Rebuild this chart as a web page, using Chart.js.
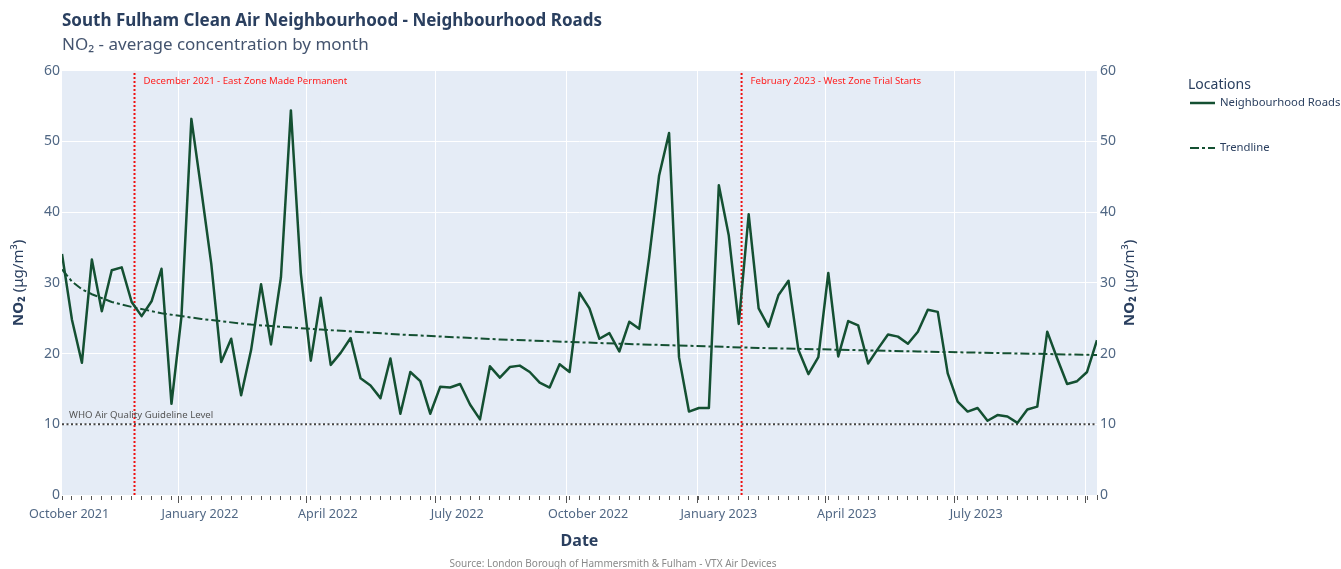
<!DOCTYPE html>
<html>
<head>
<meta charset="utf-8">
<script src="https://cdn.jsdelivr.net/npm/chart.js@4.4.1/dist/chart.umd.min.js"></script>
<style>
  html, body { margin: 0; padding: 0; background: #fff; }
</style>
</head>
<body>
<canvas id="grafico" width="1341" height="569"></canvas>
<script>
const chart = document.getElementById('grafico');
const FONT = '"Noto Sans", sans-serif';

// DATI
const DAY = 86400000;
const WEEK = 7 * DAY;
const primaSettimana = Date.UTC(2021, 9, 11);   // prima lettura settimanale

const roads = [
  34.1, 24.8, 18.7, 33.3, 26.0, 31.8, 32.2, 27.3, 25.3, 27.4,
  32.0, 12.9, 25.2, 53.2, 43.1, 32.7, 18.8, 22.1, 14.1, 20.5,
  29.8, 21.3, 30.8, 54.4, 31.3, 19.0, 27.9, 18.4, 20.1, 22.2,
  16.5, 15.5, 13.7, 19.3, 11.5, 17.4, 16.1, 11.5, 15.3, 15.2,
  15.7, 12.8, 10.7, 18.2, 16.6, 18.1, 18.3, 17.4, 15.9, 15.2,
  18.5, 17.4, 28.6, 26.4, 22.1, 22.9, 20.3, 24.5, 23.5, 33.6,
  45.2, 51.2, 19.5, 11.8, 12.3, 12.3, 43.8, 36.7, 24.2, 39.7,
  26.4, 23.8, 28.3, 30.3, 20.5, 17.1, 19.5, 31.4, 19.6, 24.6,
  24.0, 18.6, 20.7, 22.7, 22.4, 21.4, 23.1, 26.2, 25.9, 17.2,
  13.2, 11.8, 12.3, 10.5, 11.3, 11.1, 10.2, 12.1, 12.5, 23.1,
  19.3, 15.7, 16.1, 17.4, 21.9
];

// trendline (indice settimana -> valore)
const trendWeeks = [0, 1, 2, 3, 5, 7, 10, 14, 19, 26, 34, 44, 56, 70, 86, 104];
const trendValues = [31.9, 30.2, 29.1, 28.4, 27.3, 26.6, 25.7, 24.9, 24.1, 23.4, 22.7, 22.0, 21.4, 20.8, 20.3, 19.8];

const quarterStarts = ['2022-01-01', '2022-04-01', '2022-07-01', '2022-10-01', '2023-01-01', '2023-04-01', '2023-07-01', '2023-10-01'];
const monthLabels = ['October 2021', 'January 2022', 'April 2022', 'July 2022', 'October 2022', 'January 2023', 'April 2023', 'July 2023'];
const labelDates = ['2021-10-16', '2022-01-16', '2022-04-16', '2022-07-16', '2022-10-16', '2023-01-16', '2023-04-16', '2023-07-16'];

const eventDates = ['2021-12-01', '2023-02-01'];
const eventLabels = ['December 2021 - East Zone Made Permanent', 'February 2023 - West Zone Trial Starts'];

const whoLevel = 10;
const whoLabel = 'WHO Air Quality Guideline Level';

const yMin = 0, yMax = 60, yStep = 10;

const xMin = primaSettimana;
const xMax = primaSettimana + (roads.length - 1) * WEEK;
const verde = '#145032';
const tickColor = '#506784';

// CREAZIONE DATASET
let roadPoints = [];
for (let i = 0; i < roads.length; i++) {
  roadPoints.push({x: primaSettimana + i * WEEK, y: roads[i]});
}
let trendPoints = [];
for (let i = 0; i < trendWeeks.length; i++) {
  trendPoints.push({x: primaSettimana + trendWeeks[i] * WEEK, y: trendValues[i]});
}
let eventSets = eventDates.map((d, i) => ({
  label: eventLabels[i],
  data: [{x: Date.parse(d), y: yMin}, {x: Date.parse(d), y: yMax}],
  borderColor: '#ee1111',
  borderWidth: 2,
  borderDash: [2, 2],
  pointRadius: 0
}));

// PLUGIN
const sfondo = {
  id: 'sfondo',
  beforeDraw(c) {
    const {ctx, chartArea: a} = c;
    ctx.save();
    ctx.fillStyle = '#E5ECF6';
    ctx.fillRect(a.left, a.top, a.width, a.height);
    ctx.restore();
  }
};

function titoloAsse(ctx, x, y) {
  ctx.save();
  ctx.translate(x, y);
  ctx.rotate(-Math.PI / 2);
  ctx.textBaseline = 'middle';
  ctx.textAlign = 'left';
  ctx.fillStyle = '#2a3f5f';
  ctx.font = 'bold 15px ' + FONT;
  const w1 = ctx.measureText('NO₂').width;
  ctx.font = '15px ' + FONT;
  const w2 = ctx.measureText(' (μg/m³)').width;
  const start = -(w1 + w2) / 2;
  ctx.font = 'bold 15px ' + FONT;
  ctx.fillText('NO₂', start, 0);
  ctx.font = '15px ' + FONT;
  ctx.fillText(' (μg/m³)', start + w1, 0);
  ctx.restore();
}

const annotazioni = {
  id: 'annotazioni',
  afterDatasetsDraw(c) {
    const {ctx, chartArea: a, scales} = c;
    ctx.save();
    ctx.font = '9.6px ' + FONT;
    ctx.textBaseline = 'middle';
    ctx.textAlign = 'left';
    ctx.fillStyle = '#ff2020';
    eventDates.forEach((d, i) => {
      const px = scales.x.getPixelForValue(Date.parse(d));
      ctx.fillText(eventLabels[i], px + 9, a.top + 10);
    });
    ctx.fillStyle = '#555555';
    ctx.fillText(whoLabel, a.left + 7, scales.y.getPixelForValue(whoLevel) - 9);
    ctx.restore();
  },
  afterDraw(c) {
    const {ctx, chartArea: a} = c;
    const mid = (a.top + a.bottom) / 2;
    titoloAsse(ctx, 19, mid);
    titoloAsse(ctx, a.right + 33, mid);

    // legenda
    ctx.save();
    ctx.textBaseline = 'middle';
    ctx.textAlign = 'left';
    ctx.fillStyle = '#2a3f5f';
    ctx.font = '14px ' + FONT;
    ctx.fillText('Locations', 1188, 85);
    const voci = [c.data.datasets[0], c.data.datasets[1]];
    const yv = [103, 148];
    ctx.font = '11.3px ' + FONT;
    voci.forEach((ds, i) => {
      ctx.save();
      ctx.strokeStyle = ds.borderColor;
      ctx.lineWidth = ds.borderWidth;
      ctx.setLineDash(ds.borderDash || []);
      ctx.beginPath();
      ctx.moveTo(1190, yv[i]);
      ctx.lineTo(1215, yv[i]);
      ctx.stroke();
      ctx.restore();
      ctx.fillText(ds.label, 1220, yv[i]);
    });

    // fonte
    ctx.fillStyle = '#8a8a8a';
    ctx.font = '10px ' + FONT;
    ctx.textAlign = 'center';
    ctx.fillText('Source: London Borough of Hammersmith & Fulham - VTX Air Devices', 613, 564);
    ctx.restore();
  }
};

// CREAZIONE GRAFICO
Chart.defaults.font.family = FONT;

new Chart(chart, {
  type: 'line',
  data: {
    datasets: [{
      label: 'Neighbourhood Roads',
      data: roadPoints,
      borderColor: verde,
      borderWidth: 2.5,
      borderJoinStyle: 'round',
      pointRadius: 0
    }, {
      label: 'Trendline',
      data: trendPoints,
      borderColor: verde,
      borderWidth: 2,
      borderDash: [9, 3, 3, 3],
      pointRadius: 0
    },
    ...eventSets,
    {
      label: whoLabel,
      data: [{x: xMin, y: whoLevel}, {x: xMax, y: whoLevel}],
      borderColor: '#444444',
      borderWidth: 2,
      borderDash: [2, 2.5],
      pointRadius: 0
    }]
  },
  options: {
    responsive: false,
    animation: false,
    events: [],
    layout: { padding: 0 },
    plugins: {
      legend: { display: false },
      tooltip: { enabled: false },
      title: {
        display: true,
        fullSize: false,
        align: 'start',
        text: 'South Fulham Clean Air Neighbourhood - Neighbourhood Roads',
        color: '#2a3f5f',
        font: { size: 17, weight: 'bold' },
        padding: { top: 11, bottom: 2 }
      },
      subtitle: {
        display: true,
        fullSize: false,
        align: 'start',
        text: 'NO₂ - average concentration by month',
        color: '#44546f',
        font: { size: 17 },
        padding: { top: 1.4, bottom: 15.6 }
      }
    },
    scales: {
      x: {
        type: 'linear',
        position: 'bottom',
        min: xMin,
        max: xMax,
        afterBuildTicks: s => { s.ticks = quarterStarts.map(d => ({value: Date.parse(d)})); },
        ticks: { autoSkip: false, callback: () => '', padding: 0 },
        grid: { color: '#ffffff', lineWidth: 1, tickColor: '#555555', tickLength: 8 },
        border: { display: false },
        afterFit: s => { s.height = 0; }
      },
      xw: {
        type: 'linear',
        position: 'bottom',
        min: xMin,
        max: xMax,
        afterBuildTicks: s => { s.ticks = roads.map((v, i) => ({value: primaSettimana + i * WEEK})); },
        ticks: { autoSkip: false, callback: () => '', padding: 0 },
        grid: { drawOnChartArea: false, tickColor: '#555555', tickLength: 5 },
        border: { display: false },
        afterFit: s => { s.height = 0; }
      },
      x2: {
        type: 'linear',
        position: 'bottom',
        min: xMin,
        max: xMax,
        afterBuildTicks: s => { s.ticks = labelDates.map(d => ({value: Date.parse(d)})); },
        ticks: {
          autoSkip: false,
          maxRotation: 0,
          padding: 12,
          color: tickColor,
          font: { size: 12.6 },
          callback: (v, i) => monthLabels[i]
        },
        grid: { display: false, drawTicks: false },
        border: { display: false },
        title: {
          display: true,
          text: 'Date',
          color: '#2a3f5f',
          font: { size: 16, weight: 'bold' },
          padding: { top: 0, bottom: 18 }
        },
        afterFit: s => { s.height = 74; }
      },
      y: {
        position: 'left',
        min: yMin,
        max: yMax,
        ticks: { stepSize: yStep, padding: 2, color: tickColor, font: { size: 14 } },
        grid: { color: '#ffffff', drawTicks: false },
        border: { display: false },
        afterFit: s => { s.width = 62; }
      },
      y2: {
        position: 'right',
        min: yMin,
        max: yMax,
        ticks: { stepSize: yStep, padding: 3, color: tickColor, font: { size: 14 } },
        grid: { drawOnChartArea: false, drawTicks: false },
        border: { display: false },
        afterFit: s => { s.width = 1341 - 1097; }
      }
    }
  },
  plugins: [sfondo, annotazioni]
});
</script>
</body>
</html>
